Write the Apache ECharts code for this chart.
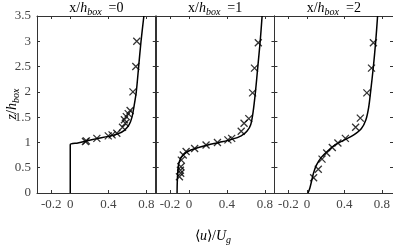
<!DOCTYPE html>
<html><head><meta charset="utf-8">
<script src="https://cdn.jsdelivr.net/npm/echarts@6/dist/echarts.min.js"></script>
<style>html,body{margin:0;padding:0;background:#fff}#c{width:393px;height:248px}</style>
</head><body><div id="c"></div>
<script>
const panelTitles = ['=0', '=1', '=2'];
const xTickValues = [-0.2, 0, 0.4, 0.8];
const yTickValues = [0, 0.5, 1, 1.5, 2, 2.5, 3, 3.5];

const line0 = [[0,0],[0,0.955],[0.08,0.99],[0.17,1.03],[0.28,1.075],[0.4,1.12],[0.5,1.17],[0.57,1.24],[0.62,1.35],[0.65,1.5],[0.67,1.7],[0.695,2.0],[0.72,2.5],[0.745,3.0],[0.775,3.5]];
const mark0 = [[0.70,3.0],[0.69,2.5],[0.66,2.0],[0.63,1.63],[0.61,1.57],[0.59,1.51],[0.57,1.45],[0.58,1.38],[0.55,1.3],[0.49,1.18],[0.44,1.15],[0.40,1.13],[0.28,1.08],[0.17,1.03],[0.16,1.02]];

const line1 = [[-0.125,0],[-0.123,0.2],[-0.118,0.4],[-0.11,0.55],[-0.095,0.65],[-0.07,0.73],[-0.03,0.8],[0.02,0.85],[0.1,0.9],[0.2,0.95],[0.32,1.0],[0.45,1.06],[0.55,1.13],[0.61,1.22],[0.65,1.35],[0.675,1.6],[0.7,2.0],[0.725,2.5],[0.75,3.0],[0.77,3.5]];
const mark1 = [[0.73,2.97],[0.69,2.47],[0.67,1.98],[0.63,1.47],[0.58,1.38],[0.55,1.22],[0.45,1.08],[0.41,1.05],[0.30,1.0],[0.18,0.95],[0.06,0.88],[-0.03,0.82],[-0.06,0.75],[-0.08,0.65],[-0.085,0.52],[-0.09,0.45],[-0.087,0.39],[-0.1,0.32]];

const line2 = [[0.01,0],[0.03,0.1],[0.05,0.25],[0.07,0.4],[0.1,0.55],[0.15,0.7],[0.22,0.83],[0.3,0.95],[0.4,1.05],[0.5,1.15],[0.58,1.27],[0.63,1.45],[0.66,1.7],[0.68,2.0],[0.71,2.5],[0.735,3.0],[0.755,3.5]];
const mark2 = [[0.71,2.97],[0.69,2.47],[0.64,1.98],[0.57,1.48],[0.52,1.3],[0.41,1.08],[0.33,0.99],[0.27,0.9],[0.21,0.79],[0.16,0.67],[0.12,0.47],[0.07,0.3]];

const lines = [line0, line1, line2];
const marks = [mark0, mark1, mark2];

const FONT = 'Liberation Serif';
const AX = '#333';
const lefts = [37, 155.7, 274.4];
const maxes = [0.9, 0.9, 0.92];
const PX = 95, TOP = 16, H = 177;

const grid = [], xAxis = [], yAxis = [], series = [];
lefts.forEach((l, i) => {
  const W = (maxes[i] + 0.35) * PX;
  grid.push({left: l, top: TOP, width: W, height: H});
  const xBase = {gridIndex: i, type: 'value', min: -0.35, max: maxes[i],
    axisLine: {show: true, onZero: false, lineStyle: {color: AX, width: 1}},
    splitLine: {show: false},
    axisTick: {show: true, inside: true, length: 3, lineStyle: {color: AX}, customValues: xTickValues}};
  xAxis.push(Object.assign({}, xBase, {position: 'bottom',
    axisLabel: {show: true, customValues: xTickValues, fontFamily: FONT, fontSize: 13, color: '#444', margin: 5,
      formatter: v => String(Math.round(v * 10) / 10)}}));
  xAxis.push(Object.assign({}, xBase, {position: 'top', axisLabel: {show: false}}));
  const yBase = {gridIndex: i, type: 'value', min: 0, max: 3.5, interval: 0.5,
    axisLine: {show: true, onZero: false, lineStyle: {color: AX, width: 1}},
    splitLine: {show: false},
    axisTick: {show: true, inside: true, length: 3, lineStyle: {color: AX}}};
  yAxis.push(Object.assign({}, yBase, {position: 'left',
    axisLabel: {show: i === 0, fontFamily: FONT, fontSize: 13, color: '#444', margin: 6,
      formatter: v => String(v)}}));
  yAxis.push(Object.assign({}, yBase, {position: 'right', axisLabel: {show: false}}));
  series.push({type: 'line', xAxisIndex: 2 * i, yAxisIndex: 2 * i, data: lines[i],
    showSymbol: false, symbol: 'none', smooth: 0.3, lineStyle: {color: '#000', width: 1.5}, z: 3});
  series.push({type: 'scatter', xAxisIndex: 2 * i, yAxisIndex: 2 * i, data: marks[i],
    symbol: 'path://M0,0L10,10M10,0L0,10', symbolSize: 7,
    itemStyle: {color: 'none', borderColor: '#000', borderWidth: 1.3}, z: 4});
});

const rich = {
  n: {fontFamily: FONT, fontSize: 14, color: '#333', lineHeight: 18},
  i: {fontFamily: FONT, fontSize: 14, fontStyle: 'italic', color: '#333', lineHeight: 18},
  s: {fontFamily: FONT, fontSize: 10, fontStyle: 'italic', color: '#333', lineHeight: 9, verticalAlign: 'bottom'}
};

const graphic = [];
lefts.forEach((l, i) => {
  graphic.push({type: 'text', x: l + 59.4, y: 8,
    style: {text: '{n|x/}{i|h}{s|box}{n|  ' + panelTitles[i] + '}', rich: rich, align: 'center', verticalAlign: 'middle'}});
});
graphic.push({type: 'text', x: 12, y: 104, rotation: Math.PI / 2,
  style: {text: '{i|z}{n|/}{i|h}{s|box}', rich: rich, align: 'center', verticalAlign: 'middle'}});
graphic.push({type: 'text', x: 213, y: 236,
  style: {text: '{n|⟨}{i|u}{n|⟩/}{i|U}{s|g}', rich: rich, align: 'center', verticalAlign: 'middle'}});

const chart = echarts.init(document.getElementById('c'), null, {renderer: 'canvas'});
chart.setOption({animation: false, grid, xAxis, yAxis, series, graphic});
</script></body></html>
